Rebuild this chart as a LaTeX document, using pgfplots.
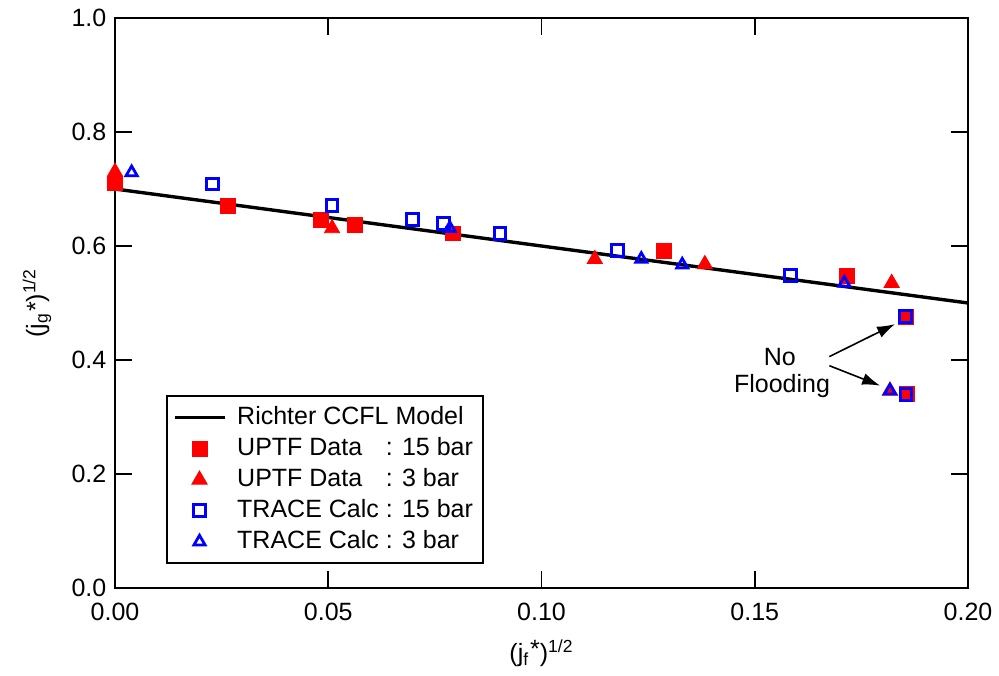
\documentclass[border=0pt]{standalone}
\usepackage{fontspec}
\setmainfont{Liberation Sans}
\usepackage{amsmath}
\usepackage{calc}
\usepackage{pgfplots}
\pgfplotsset{compat=1.18}
\usetikzlibrary{arrows.meta}
\definecolor{mred}{RGB}{255,0,0}
\definecolor{mblue}{RGB}{0,0,255}

\pgfplotstableread{
x y
0.0000 0.710
0.0264 0.671
0.0482 0.646
0.0563 0.637
0.0793 0.622
0.1287 0.592
0.1716 0.548
0.1854 0.476
0.1856 0.340
}\uptffifteen

\pgfplotstableread{
x y
0.0000 0.730
0.0509 0.631
0.1125 0.577
0.1383 0.568
0.1821 0.535
0.1817 0.346
}\uptfthree

\pgfplotstableread{
x y
0.0229 0.709
0.0509 0.671
0.0698 0.647
0.0770 0.639
0.0903 0.622
0.1178 0.592
0.1584 0.548
0.1854 0.476
0.1855 0.340
}\tracefifteen

\pgfplotstableread{
x y
0.0039 0.729
0.0785 0.631
0.1234 0.577
0.1330 0.567
0.1710 0.535
0.1817 0.346
}\tracethree

\begin{document}
\fontsize{12.5pt}{15pt}\selectfont
\begin{tikzpicture}
\begin{axis}[
  name=main,
  scale only axis, width=426.5pt, height=285pt,
  xmin=0, xmax=0.2, ymin=0, ymax=1.0,
  xtick={0,0.05,0.1,0.15,0.2},
  ytick={0,0.2,0.4,0.6,0.8,1.0},
  scaled ticks=false,
  /pgf/number format/assume math mode=true,
  ticklabel style={font=\fontsize{12.5pt}{15pt}\selectfont},
  xticklabel style={yshift=-3pt, /pgf/number format/.cd, fixed, fixed zerofill, precision=2},
  yticklabel style={/pgf/number format/.cd, fixed, fixed zerofill, precision=1},
  tick align=inside, tick pos=both, major tick length=8.5pt,
  axis line style={line width=1pt},
  every tick/.style={line width=0.8pt, black},
  xlabel={(j$_{\text{f}}$\kern0.5pt\raisebox{0.3ex}{*})$^{\text{1/2}}$},
  ylabel={(j$_{\text{g}}$\kern0.5pt*)$^{\text{1/2}}$},
  xlabel style={at={(axis description cs:0.5,0)}, anchor=center, yshift=-32.5pt, font=\fontsize{12.5pt}{15pt}\selectfont},
  ylabel style={at={(axis description cs:-0.0915,0.5)}, anchor=center, font=\fontsize{12.5pt}{15pt}\selectfont},
  legend style={at={(axis description cs:0.0598,0.0421)}, anchor=south west,
    draw=black, line width=0.8pt, inner xsep=3pt, inner ysep=3pt,
    font=\fontsize{12.5pt}{15pt}\selectfont,
    nodes={text height=9pt, text depth=2.5pt, inner sep=2pt},
    column sep=3.5pt},
  legend cell align=left,
  legend image code/.code={\draw[mark repeat=2,mark phase=2,#1] plot coordinates {(0pt,0pt) (12.5pt,0pt) (25pt,0pt)};},
]
\addplot[black, line width=1.7pt] coordinates {(0,0.70) (0.2,0.50)};
\addlegendentry{Richter CCFL Model}
\addplot[only marks, mark=square*, mark size=3.7pt, color=mred, fill=mred, mark options={line width=0.4pt}] table[x=x,y=y] {\uptffifteen};
\addlegendentry{\makebox[\widthof{TRACE Calc}][l]{UPTF Data} : 15 bar}
\addplot[only marks, mark=triangle*, mark size=4.4pt, color=mred, fill=mred, mark options={line width=0.4pt}] table[x=x,y=y] {\uptfthree};
\addlegendentry{\makebox[\widthof{TRACE Calc}][l]{UPTF Data} : 3 bar}
\addplot[only marks, mark=square, mark size=2.9pt, color=mblue, mark options={line width=1.5pt}] table[x=x,y=y] {\tracefifteen};
\addlegendentry{TRACE Calc : 15 bar}
\addplot[only marks, mark=triangle, mark size=3.2pt, color=mblue, mark options={line width=1.4pt}] table[x=x,y=y] {\tracethree};
\addlegendentry{TRACE Calc : 3 bar}

\node[font=\fontsize{12.5pt}{15pt}\selectfont] at (axis cs:0.1559,0.406) {No};
\node[font=\fontsize{12.5pt}{15pt}\selectfont] at (axis cs:0.1564,0.354) {Flooding};
\draw[-{Latex[length=9pt,width=6pt]}, line width=0.8pt] (axis cs:0.1675,0.406) -- (axis cs:0.1829,0.463);
\draw[-{Latex[length=9pt,width=6pt]}, line width=0.8pt] (axis cs:0.1675,0.390) -- (axis cs:0.1794,0.355);
\end{axis}
\pgfresetboundingbox
\path[use as bounding box] ([shift={(-57.5pt,-43.5pt)}]main.south west) rectangle ([shift={(15.5pt,9pt)}]main.north east);
\end{tikzpicture}
\end{document}
